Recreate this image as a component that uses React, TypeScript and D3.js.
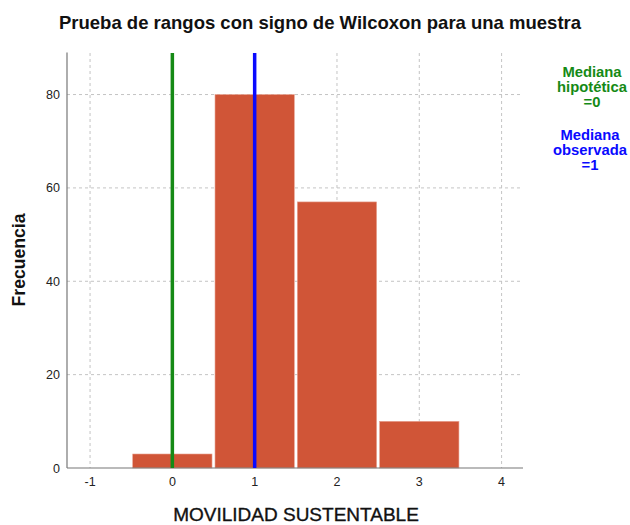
import React from 'react';
import * as d3 from 'd3';

const categories = [0, 1, 2, 3];
const frequencies = [3, 80, 57, 10];
const xTicks = [-1, 0, 1, 2, 3, 4];
const yTicks = [0, 20, 40, 60, 80];
const hypotheticalMedian = 0;
const observedMedian = 1;

const width = 630;
const height = 525;
const left = 67;
const right = 523;
const top = 53;
const bottom = 468;

export default function App() {
  const x = d3.scaleLinear().domain([-1.28, 4.26]).range([left, right]);
  const y = d3.scaleLinear().domain([0, 88.9]).range([bottom, top]);

  return (
    <svg width={width} height={height} style={{ position: 'absolute', left: 0, top: 0 }}
      fontFamily="'Liberation Sans', Arial, sans-serif">
      <text x={320} y={29} textAnchor="middle" fontSize={18.5} fontWeight="bold" fill="#111">
        Prueba de rangos con signo de Wilcoxon para una muestra
      </text>

      {/* grid */}
      {xTicks.map(t => (
        <line key={'gx' + t} x1={x(t)} x2={x(t)} y1={top} y2={bottom}
          stroke="#c4c4c4" strokeDasharray="3,3" />
      ))}
      {yTicks.filter(t => t > 0).map(t => (
        <line key={'gy' + t} x1={left} x2={right} y1={y(t)} y2={y(t)}
          stroke="#c4c4c4" strokeDasharray="3,3" />
      ))}

      {/* bars */}
      {categories.map((c, i) => (
        <rect key={c} x={x(c - 0.5) + 1.5} width={x(c + 0.5) - x(c - 0.5) - 3}
          y={y(frequencies[i])} height={bottom - y(frequencies[i])}
          fill="#d05537" stroke="#e8a392" strokeWidth={0.6} />
      ))}

      {/* axes */}
      <line x1={left} x2={left} y1={top - 0.5} y2={bottom} stroke="#777" strokeWidth={1.2} />
      <line x1={left} x2={right} y1={bottom} y2={bottom} stroke="#777" strokeWidth={1.2} />

      {yTicks.map(t => (
        <text key={'ty' + t} x={60} y={y(t) + 4.5} textAnchor="end" fontSize={12.5} fill="#222">{t}</text>
      ))}
      {xTicks.map(t => (
        <text key={'tx' + t} x={x(t)} y={486} textAnchor="middle" fontSize={12.5} fill="#222">{t}</text>
      ))}

      {/* median lines */}
      <line x1={x(hypotheticalMedian)} x2={x(hypotheticalMedian)} y1={top} y2={bottom}
        stroke="#158a15" strokeWidth={3.5} />
      <line x1={x(observedMedian)} x2={x(observedMedian)} y1={top} y2={bottom}
        stroke="#0a0aff" strokeWidth={3.5} />

      {/* axis titles */}
      <text x={296} y={521} textAnchor="middle" fontSize={19} fill="#111"
        stroke="#111" strokeWidth={0.35}>MOVILIDAD SUSTENTABLE</text>
      <text transform="translate(25,260) rotate(-90)" textAnchor="middle" fontSize={17.6}
        fontWeight="bold" fill="#111">Frecuencia</text>

      {/* legend */}
      <g fontSize={14.8} fontWeight="bold" textAnchor="middle">
        <text x={592} y={77} fill="#158a15">Mediana</text>
        <text x={592} y={92} fill="#158a15">hipotética</text>
        <text x={592} y={107} fill="#158a15">=0</text>
        <text x={590} y={140} fill="#0a0aff">Mediana</text>
        <text x={590} y={155} fill="#0a0aff">observada</text>
        <text x={590} y={170} fill="#0a0aff">=1</text>
      </g>
    </svg>
  );
}
